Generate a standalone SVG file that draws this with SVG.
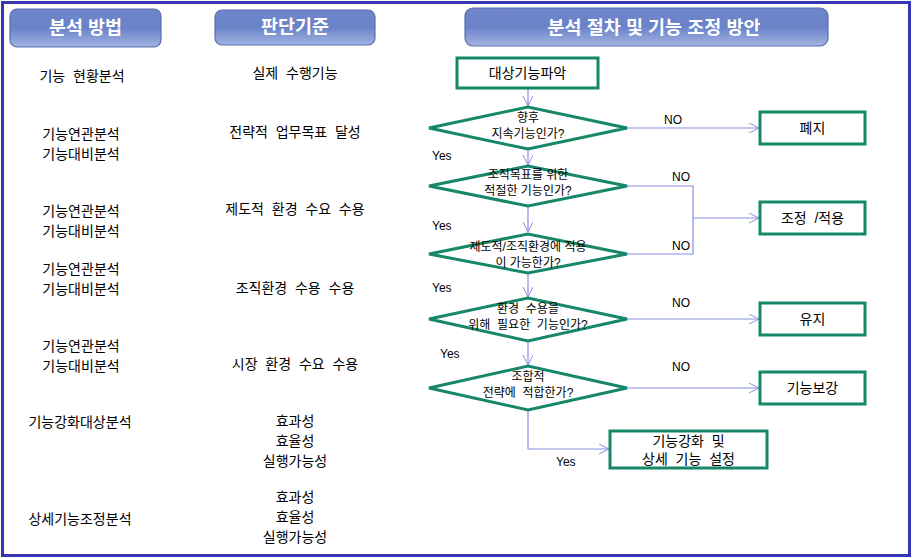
<svg xmlns="http://www.w3.org/2000/svg" width="913" height="559" viewBox="0 0 913 559">
<defs>
<linearGradient id="hg" x1="0" y1="0" x2="0" y2="1">
<stop offset="0" stop-color="#6f86cc"/>
<stop offset="0.5" stop-color="#6a82c8"/>
<stop offset="1" stop-color="#a3b4e2"/>
</linearGradient>
<marker id="ah" markerWidth="12" markerHeight="12" refX="10" refY="5" orient="auto" markerUnits="userSpaceOnUse">
<path d="M0,0 L10,5 L0,10" fill="none" stroke="#8a8ee6" stroke-width="1"/>
</marker>
<style>
text{white-space:pre}
.hdr{fill:url(#hg);stroke:#5a6fae;stroke-width:1.2}
.ht{font-family:"Liberation Sans","Noto Sans CJK KR",sans-serif;font-size:18.5px;font-weight:bold;fill:#ffffff;text-anchor:middle}
.t{font-family:"Liberation Sans","Noto Sans CJK KR",sans-serif;font-size:14px;fill:#000;text-anchor:middle}
.ts{font-family:"Liberation Sans","Noto Sans CJK KR",sans-serif;font-size:12px;fill:#000;text-anchor:middle}
.lb{font-family:"Liberation Sans","Noto Sans CJK KR",sans-serif;font-size:12px;fill:#000}
.bx{fill:#fff;stroke:#17876a;stroke-width:3}
.dm{fill:#fff;stroke:#17876a;stroke-width:3}
.cn{fill:none;stroke:#8a8ee6;stroke-width:1.2}
</style>
</defs>
<rect x="0" y="0" width="913" height="559" fill="#fff"/>
<rect x="2.5" y="2.5" width="907" height="553" fill="none" stroke="#3636b4" stroke-width="3"/>

<g id="h1"><rect class="hdr" x="10" y="9" width="151" height="38" rx="7"/><text class="ht" x="85.5" y="34">분석 방법</text></g>
<g id="h2"><rect class="hdr" x="215" y="10" width="160" height="35" rx="7"/><text class="ht" x="295" y="33">판단기준</text></g>
<g id="h3"><rect class="hdr" x="465" y="8" width="363" height="38" rx="8"/><text class="ht" x="654" y="34">분석 절차 및 기능 조정 방안</text></g>

<g id="leftcol">
<text class="t" x="82" y="81">기능  현황분석</text>
<text class="t" x="81" y="139">기능연관분석</text><text class="t" x="81" y="159">기능대비분석</text>
<text class="t" x="81" y="216">기능연관분석</text><text class="t" x="81" y="236">기능대비분석</text>
<text class="t" x="81" y="274">기능연관분석</text><text class="t" x="81" y="294">기능대비분석</text>
<text class="t" x="81" y="351">기능연관분석</text><text class="t" x="81" y="371">기능대비분석</text>
<text class="t" x="80" y="427">기능강화대상분석</text>
<text class="t" x="80" y="524">상세기능조정분석</text>
</g>
<g id="midcol">
<text class="t" x="295" y="78">실제  수행기능</text>
<text class="t" x="295" y="137">전략적  업무목표  달성</text>
<text class="t" x="295" y="214">제도적  환경  수요  수용</text>
<text class="t" x="295" y="293">조직환경  수용  수용</text>
<text class="t" x="295" y="369">시장  환경  수요  수용</text>
<text class="t" x="295" y="426">효과성</text><text class="t" x="295" y="446">효율성</text><text class="t" x="295" y="466">실행가능성</text>
<text class="t" x="295" y="502">효과성</text><text class="t" x="295" y="522">효율성</text><text class="t" x="295" y="542">실행가능성</text>
</g>

<g id="connectors">
<line class="cn" x1="528" y1="89" x2="528" y2="106" marker-end="url(#ah)"/>
<line class="cn" x1="528" y1="149" x2="528" y2="165" marker-end="url(#ah)"/>
<line class="cn" x1="528" y1="206" x2="528" y2="232" marker-end="url(#ah)"/>
<line class="cn" x1="528" y1="273" x2="528" y2="297" marker-end="url(#ah)"/>
<line class="cn" x1="528" y1="341" x2="528" y2="365" marker-end="url(#ah)"/>
<polyline class="cn" points="528,410 528,449 609,449" marker-end="url(#ah)"/>
<line class="cn" x1="627" y1="128" x2="759" y2="128" marker-end="url(#ah)"/>
<polyline class="cn" points="627,186 693,186 693,254 627,254"/>
<line class="cn" x1="693" y1="218" x2="759" y2="218" marker-end="url(#ah)"/>
<line class="cn" x1="627" y1="319" x2="759" y2="319" marker-end="url(#ah)"/>
<line class="cn" x1="627" y1="388" x2="759" y2="388" marker-end="url(#ah)"/>
<text class="lb" x="664" y="124">NO</text>
<text class="lb" x="672" y="181">NO</text>
<text class="lb" x="672" y="250">NO</text>
<text class="lb" x="672" y="307">NO</text>
<text class="lb" x="672" y="371">NO</text>
<text class="lb" x="432" y="160">Yes</text>
<text class="lb" x="432" y="230">Yes</text>
<text class="lb" x="432" y="292">Yes</text>
<text class="lb" x="440" y="358">Yes</text>
<text class="lb" x="556" y="466">Yes</text>
</g>

<g id="n0"><rect class="bx" x="457" y="58" width="141" height="30"/><text class="t" x="527.5" y="78">대상기능파악</text></g>
<g id="d1"><polygon class="dm" points="429,128 528,107 627,128 528,149"/><text class="ts" x="528" y="122">향후</text><text class="ts" x="528" y="138">지속기능인가?</text></g>
<g id="d2"><polygon class="dm" points="429,186 528,166 627,186 528,206"/><text class="ts" x="528" y="179">조직목표를 위한</text><text class="ts" x="528" y="195">적절한 기능인가?</text></g>
<g id="d3"><polygon class="dm" points="429,254 528,234 627,254 528,273"/><text class="ts" x="528" y="251">제도적/조직환경에 적용</text><text class="ts" x="528" y="267">이 가능한가?</text></g>
<g id="d4"><polygon class="dm" points="429,319 528,298 627,319 528,341"/><text class="ts" x="528" y="313">환경  수용을</text><text class="ts" x="528" y="329">위해  필요한  기능인가?</text></g>
<g id="d5"><polygon class="dm" points="429,388 528,366 627,388 528,410"/><text class="ts" x="528" y="381">조합적</text><text class="ts" x="528" y="397">전략에  적합한가?</text></g>

<g id="n1"><rect class="bx" x="760" y="112" width="105" height="32"/><text class="t" x="812.5" y="133">폐지</text></g>
<g id="n2"><rect class="bx" x="760" y="202" width="105" height="32"/><text class="t" x="812.5" y="223">조정  /적용</text></g>
<g id="n3"><rect class="bx" x="760" y="303" width="105" height="32"/><text class="t" x="812.5" y="324">유지</text></g>
<g id="n4"><rect class="bx" x="760" y="372" width="105" height="32"/><text class="t" x="812.5" y="393">기능보강</text></g>
<g id="n5"><rect class="bx" x="610" y="431" width="157" height="37"/><text class="t" x="688.5" y="446">기능강화  및</text><text class="t" x="688.5" y="464">상세  기능  설정</text></g>
</svg>
